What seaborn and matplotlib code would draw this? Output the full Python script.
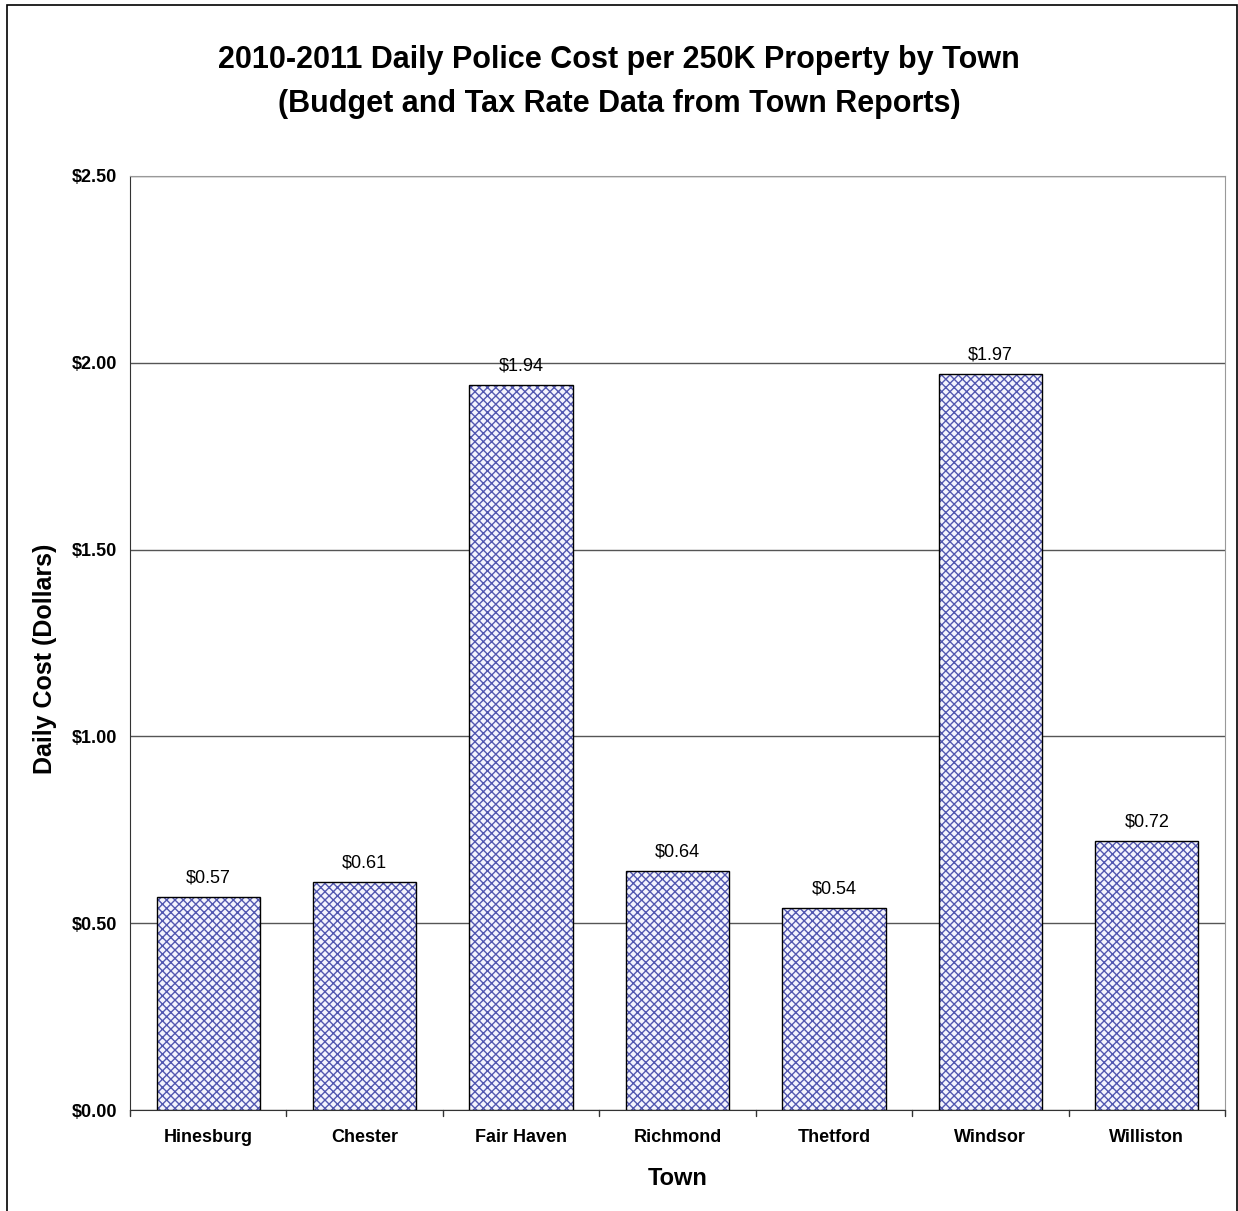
import seaborn as sns
import matplotlib.pyplot as plt
from matplotlib.patches import Rectangle

towns = ['Hinesburg', 'Chester', 'Fair Haven', 'Richmond', 'Thetford', 'Windsor', 'Williston']
costs = [0.57, 0.61, 1.94, 0.64, 0.54, 1.97, 0.72]
yticks = [0.0, 0.5, 1.0, 1.5, 2.0, 2.5]

sns.set_style('white')
plt.rcParams['font.family'] = ['Liberation Sans', 'DejaVu Sans']
plt.rcParams['text.color'] = 'black'
plt.rcParams['axes.labelcolor'] = 'black'
plt.rcParams['xtick.color'] = 'black'
plt.rcParams['ytick.color'] = 'black'
plt.rcParams['hatch.linewidth'] = 1.0

fig = plt.figure(figsize=(12.38, 12.11), dpi=100)
ax = fig.add_axes([0.105, 0.0834, 0.8845, 0.7713])

# hachures bleues (la couleur de hachure suit edgecolor), puis contour noir par-dessus
sns.barplot(x=towns, y=costs, color='#f2f2ff', width=0.66, edgecolor='#5257b0',
            linewidth=0, ax=ax, zorder=3)
for p in ax.patches:
    p.set_hatch('xxxx')
sns.barplot(x=towns, y=costs, fill=False, width=0.66, edgecolor='black',
            linewidth=1.0, ax=ax, zorder=4)

for i, v in enumerate(costs):
    ax.text(i, v + 0.028, f'${v:.2f}', ha='center', va='bottom', fontsize=13, zorder=5)

ax.set_ylim(0, 2.5)
ax.set_xlim(-0.5, len(towns) - 0.5)
ax.set_yticks(yticks)
ax.set_yticklabels([f'${t:.2f}' for t in yticks], fontweight='bold', fontsize=13)
ax.set_xticks(range(len(towns)))
ax.set_xticklabels(towns, fontweight='bold', fontsize=13)
ax.tick_params(axis='x', length=0, pad=14)
ax.tick_params(axis='y', length=5, width=1, direction='out', pad=4, color='#333333')

for b in range(len(towns) + 1):
    ax.plot([b - 0.5, b - 0.5], [0, -0.015], color='#333333', lw=1, clip_on=False, zorder=6)

ax.yaxis.grid(True, color='#555555', lw=1, zorder=0)
ax.set_axisbelow(True)
for side in ['top', 'right']:
    ax.spines[side].set_color('#999999')
ax.spines['left'].set_color('#333333')
ax.spines['bottom'].set_color('#333333')

ax.set_xlabel('Town', fontweight='bold', fontsize=17)
ax.set_ylabel('Daily Cost (Dollars)', fontweight='bold', fontsize=18)
ax.xaxis.set_label_coords(0.5, -0.061)
ax.yaxis.set_label_coords(-0.0666, 0.483)

fig.text(0.5, 0.9505, '2010-2011 Daily Police Cost per 250K Property by Town',
         ha='center', va='center', fontsize=22, fontweight='bold')
fig.text(0.5, 0.9145, '(Budget and Tax Rate Data from Town Reports)',
         ha='center', va='center', fontsize=22, fontweight='bold')

fig.patches.append(Rectangle((0.0057, -0.01), 0.9935, 1.0059, transform=fig.transFigure,
                             fill=False, edgecolor='black', lw=1.2))

fig.savefig('out.png', dpi=100)
